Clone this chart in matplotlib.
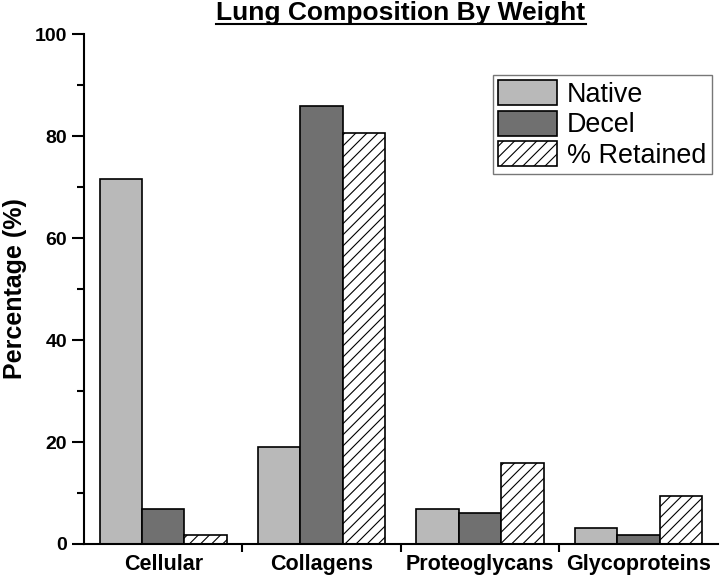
import numpy as np
import matplotlib.pyplot as plt
from matplotlib.lines import Line2D

plt.rcParams['font.family'] = ['Liberation Sans', 'DejaVu Sans']
plt.rcParams['hatch.linewidth'] = 0.8

# --- data ---
categories = ['Cellular', 'Collagens', 'Proteoglycans', 'Glycoproteins']
native = [71.5, 19.0, 6.8, 3.1]
decel = [6.8, 85.8, 6.1, 1.7]
retained = [1.7, 80.5, 15.9, 9.5]
series_names = ['Native', 'Decel', '% Retained']

fig = plt.figure(figsize=(7.2, 5.77), dpi=100)
ax = fig.add_axes([0.1167, 0.0572, 0.8803, 0.8838])

x = np.arange(len(categories))
w = 0.268
ax.bar(x - w, native, w, color='#b9b9b9', edgecolor='black', lw=1.2, label=series_names[0])
ax.bar(x, decel, w, color='#707070', edgecolor='black', lw=1.2, label=series_names[1])
ax.bar(x + w, retained, w, color='white', edgecolor='black', lw=1.2,
       hatch='///', label=series_names[2])

ax.set_xlim(-0.5, 3.5)
ax.set_ylim(0, 100)
ax.set_yticks(np.arange(0, 101, 20))
ax.set_yticks(np.arange(10, 100, 20), minor=True)
ax.set_xticks(x)
ax.set_xticks(np.arange(0.5, 3.0, 1.0), minor=True)
ax.set_xticklabels(categories, fontsize=15.5, fontweight='bold')
for lab in ax.get_yticklabels():
    lab.set_fontsize(14)
    lab.set_fontweight('bold')
ax.tick_params(axis='x', which='major', length=0, pad=7)
ax.tick_params(axis='x', which='minor', length=6, width=1.5, direction='out')
ax.tick_params(axis='y', which='major', length=9, width=1.5, direction='out', pad=3)
ax.tick_params(axis='y', which='minor', length=5, width=1.5, direction='out')

for s in ['top', 'right']:
    ax.spines[s].set_visible(False)
for s in ['left', 'bottom']:
    ax.spines[s].set_linewidth(1.5)

ax.set_ylabel('Percentage (%)', fontsize=18, fontweight='bold', labelpad=6)

leg = ax.legend(loc='upper right', bbox_to_anchor=(0.990, 0.92), fontsize=19.4,
                frameon=True, fancybox=False, edgecolor='#555555',
                handlelength=2.2, handleheight=1.05, labelspacing=0.1,
                handletextpad=0.35, borderpad=0.2, borderaxespad=0)
leg.get_frame().set_linewidth(1.0)

# underlined title
title = fig.text(0.557, 0.978, 'Lung Composition By Weight', ha='center', va='center',
                 fontsize=19, fontweight='bold')
fig.canvas.draw()
bb = title.get_window_extent().transformed(fig.transFigure.inverted())
fig.add_artist(Line2D([bb.x0, bb.x1], [bb.y0 + 0.001, bb.y0 + 0.001],
                      transform=fig.transFigure, color='black', lw=1.5))

fig.savefig('out.png', dpi=100)
